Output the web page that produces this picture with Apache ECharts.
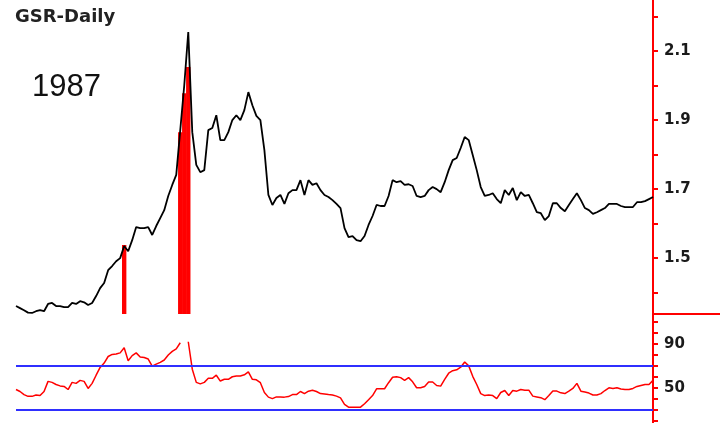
<!DOCTYPE html>
<html><head><meta charset="utf-8">
<script src="https://cdn.jsdelivr.net/npm/echarts@6/dist/echarts.min.js"></script>
<style>html,body{margin:0;padding:0;background:#fff}#c{width:726px;height:423px}</style>
</head><body><div id="c"></div>
<script>
// GSR daily close, 1987
const price = [
1.361,1.355,1.349,1.342,1.341,1.346,1.349,1.346,1.367,1.370,
1.361,1.361,1.358,1.358,1.370,1.367,1.375,1.372,1.364,1.370,
1.390,1.413,1.428,1.465,1.477,1.491,1.500,1.535,1.520,1.552,
1.590,1.587,1.587,1.590,1.567,1.593,1.616,1.639,1.680,1.712,
1.741,1.871,2.001,2.155,1.865,1.770,1.749,1.755,1.871,1.877,
1.914,1.842,1.842,1.865,1.900,1.914,1.900,1.929,1.981,1.943,
1.912,1.900,1.813,1.683,1.654,1.674,1.683,1.657,1.688,1.697,
1.697,1.726,1.683,1.726,1.712,1.717,1.697,1.683,1.677,1.668,
1.657,1.645,1.587,1.561,1.564,1.552,1.549,1.564,1.596,1.622,
1.654,1.651,1.651,1.680,1.726,1.720,1.723,1.712,1.714,1.709,
1.680,1.677,1.680,1.697,1.706,1.700,1.691,1.720,1.755,1.784,
1.790,1.819,1.851,1.842,1.799,1.755,1.706,1.680,1.683,1.688,
1.671,1.659,1.697,1.683,1.703,1.668,1.691,1.680,1.683,1.659,
1.633,1.630,1.610,1.622,1.659,1.659,1.645,1.636,1.654,1.671,
1.688,1.668,1.645,1.639,1.628,1.633,1.639,1.645,1.657,1.657,
1.657,1.651,1.648,1.648,1.648,1.662,1.662,1.665,1.671,1.677
];
// RSI-like oscillator (null = not drawn)
const rsi = [
48.4,46.6,43.8,42.2,42.2,43.4,42.9,46.6,55.8,54.9,
53.0,51.7,51.2,48.4,54.9,54.0,56.7,55.8,49.4,54.0,
61.4,68.5,72.4,78.4,80.3,80.7,81.7,86.3,74.6,79.2,
81.7,78.0,77.5,76.1,69.7,71.5,73.1,75.2,79.8,83.1,
85.4,90.9,null,91.8,66.9,54.9,53.5,54.9,58.6,58.6,
61.4,56.1,57.7,57.7,60.0,60.7,60.7,61.8,64.4,57.7,
57.2,54.6,45.7,41.5,40.1,41.7,41.7,41.5,42.0,43.8,
43.8,46.6,44.7,46.9,47.8,46.6,44.7,44.3,43.8,43.4,
42.4,40.8,35.0,32.4,32.4,32.4,32.4,35.5,39.2,42.9,
49.1,49.1,49.1,54.6,59.5,60.0,59.2,56.7,59.2,55.4,
50.0,50.0,51.2,55.2,55.2,52.1,51.5,57.7,63.2,65.5,
66.3,68.7,73.4,69.9,60.4,53.0,44.7,42.9,43.4,42.9,
40.1,45.7,47.5,42.9,47.5,46.9,48.4,47.8,47.8,42.4,
41.7,41.0,39.2,42.9,47.0,47.0,45.4,44.7,46.9,49.4,
54.0,46.9,46.1,45.2,43.4,43.4,44.7,47.5,50.0,49.4,
50.0,48.9,48.4,48.4,49.4,51.2,52.1,53.0,53.0,56.7
];
// signal bars (day index, value)
const signalDays = [27, 41, 42, 43];
const signalValues = [1.538, 1.865, 1.978, 2.054];
const rsiLevels = [70, 30];
const priceTickLabels = ['1.5','1.7','1.9','2.1'];
const rsiTickLabels = ['50','90'];
const days = price.map((_, i) => String(i + 1));
const barData = price.map(() => null);
signalDays.forEach((d, k) => { barData[d] = signalValues[k]; });

const RED = '#ff0000';
const labelStyle = {fontFamily:'DejaVu Sans', fontWeight:'bold', fontSize:15, color:'#1a1a1a', margin:11};

const chart = echarts.init(document.getElementById('c'), null, {renderer:'canvas'});
chart.setOption({
  animation:false,
  backgroundColor:'#ffffff',
  title:[
    {text:'GSR-Daily', left:15, top:8, padding:0, textStyle:{fontFamily:'DejaVu Sans', fontWeight:'bold', fontSize:18, color:'#222'}},
    {text:'1987', left:32, top:72, padding:0, textStyle:{fontFamily:'Liberation Sans', fontWeight:'normal', fontSize:31, color:'#111'}}
  ],
  grid:[
    {left:16, right:73, top:0, height:314},
    {left:16, right:73, top:314, height:109}
  ],
  xAxis:[
    {type:'category', gridIndex:0, data:days, boundaryGap:false, show:false},
    {type:'category', gridIndex:1, data:days, boundaryGap:false, show:false}
  ],
  yAxis:[
    {type:'value', gridIndex:0, position:'right', min:1.338, max:2.248, splitNumber:9,
     axisLine:{show:true, lineStyle:{color:RED, width:2}},
     axisTick:{show:true, length:5, lineStyle:{color:RED, width:2}},
     splitLine:{show:false},
     axisLabel:Object.assign({}, labelStyle, {showMinLabel:false, showMaxLabel:false,
       formatter:v => { const s = (+v).toFixed(1); return (priceTickLabels.includes(s) && Math.abs(v - +s) < 1e-6) ? s : ''; }})},
    {type:'value', gridIndex:1, position:'right', min:18, max:117, splitNumber:10,
     axisLine:{show:true, lineStyle:{color:RED, width:2}},
     axisTick:{show:true, length:5, lineStyle:{color:RED, width:2}},
     splitLine:{show:false},
     axisLabel:Object.assign({}, labelStyle, {showMinLabel:false, showMaxLabel:false,
       formatter:v => { const r = Math.round(v); return (rsiTickLabels.includes(String(r)) && Math.abs(v - r) < 1e-6) ? String(r) : ''; }})}
  ],
  graphic:[
    {type:'line', shape:{x1:653, y1:314, x2:720, y2:314}, style:{stroke:RED, lineWidth:2}}
  ],
  series:[
    {type:'bar', xAxisIndex:0, yAxisIndex:0, data:barData, barWidth:4.4, itemStyle:{color:RED}, z:2},
    {type:'line', xAxisIndex:0, yAxisIndex:0, data:price, showSymbol:false, lineStyle:{color:'#000', width:1.8}, z:3},
    {type:'line', xAxisIndex:1, yAxisIndex:1, data:rsi, showSymbol:false, connectNulls:false, lineStyle:{color:RED, width:1.5}, z:3,
     markLine:{silent:true, symbol:['none','none'], label:{show:false}, lineStyle:{color:'#2f2fff', width:2, type:'solid'},
       data:rsiLevels.map(v => ({yAxis:v}))}}
  ]
});
</script></body></html>
